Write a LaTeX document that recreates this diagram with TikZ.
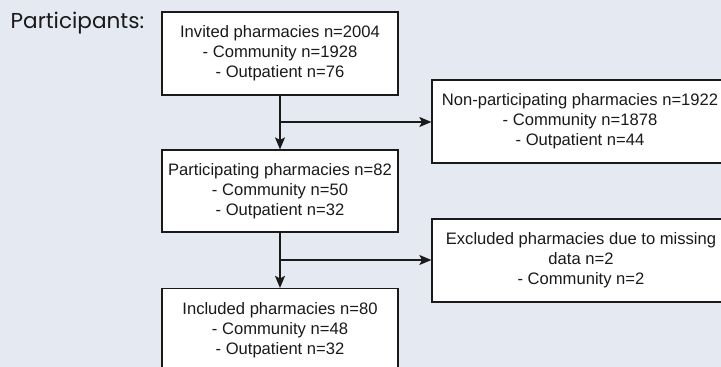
\documentclass[tikz,border=0pt]{standalone}
\usepackage{fontspec}
\setmainfont{Liberation Sans}
\newfontfamily\titlefont{Poppins}
\usetikzlibrary{arrows.meta}
\definecolor{bgc}{HTML}{E5E9F2}
\definecolor{ink}{HTML}{1A1A1A}
\tikzset{
  box/.style={draw=ink, line width=1.2pt, fill=white, rectangle, align=center,
    minimum height=83pt, inner sep=0pt, font=\fontsize{16.6}{19.8}\selectfont, text=ink},
  conn/.style={draw=ink, line width=1.1pt, -{Stealth[length=12pt,width=10pt,inset=2.5pt]}},
}
\begin{document}
\begin{tikzpicture}[x=1pt,y=-1pt]
\useasboundingbox (0,0) rectangle (721,367);
\fill[bgc] (0,0) rectangle (721,367);
\clip (0,0) rectangle (721,367);
\node[anchor=west, font=\titlefont\fontsize{21.6}{26}\selectfont, text=ink, inner sep=0pt] (title) at (10.5,23) {Participants:};
\node[box, minimum width=236pt] (b1) at (280,53.5) {Invited pharmacies n=2004\\- Community n=1928\\- Outpatient n=76};
\node[box, minimum width=296pt] (b2) at (580,121.5) {Non-participating pharmacies n=1922\\- Community n=1878\\- Outpatient n=44};
\node[box, minimum width=236pt, minimum height=82pt] (b3) at (280,191) {Participating pharmacies n=82\\- Community n=50\\- Outpatient n=32};
\node[box, minimum width=298pt] (b4) at (581,260.5) {Excluded pharmacies due to missing\\data n=2\\- Community n=2};
\node[box, minimum width=236pt] (b5) at (280,330) {Included pharmacies n=80\\- Community n=48\\- Outpatient n=32};
\coordinate (j1) at (280,122);
\coordinate (j2) at (280,260);
\draw[conn] (b1) -- (b3);
\draw[conn] (j1) -- (j1 -| b2.west);
\draw[conn] (b3) -- (b5);
\draw[conn] (j2) -- (j2 -| b4.west);
\end{tikzpicture}
\end{document}
